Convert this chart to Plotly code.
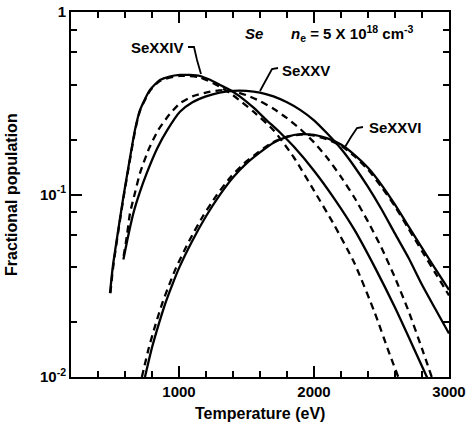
import plotly.graph_objects as go

# ---- data (Temperature in eV, fractional population) ----
T_xxiv_solid = [489, 501, 513, 550, 588, 630, 674, 711, 785, 859, 930, 1007, 1080, 1156, 1230, 1304, 1378, 1450, 1550, 1650, 1750, 1850, 2000, 2150, 2300, 2450, 2600, 2750, 2850]
P_xxiv_solid = [0.0288, 0.0354, 0.042, 0.064, 0.097, 0.148, 0.226, 0.29, 0.374, 0.424, 0.443, 0.452, 0.452, 0.446, 0.425, 0.398, 0.374, 0.345, 0.30, 0.255, 0.218, 0.183, 0.135, 0.095, 0.064, 0.040, 0.024, 0.0138, 0.0095]

T_xxiv_dash = [492, 504, 516, 552, 590, 632, 676, 713, 787, 861, 1007, 1156, 1300, 1400, 1550, 1700, 1850, 2000, 2150, 2300, 2450, 2550, 2624]
P_xxiv_dash = [0.0288, 0.0354, 0.042, 0.064, 0.097, 0.148, 0.226, 0.29, 0.372, 0.42, 0.447, 0.438, 0.39, 0.35, 0.285, 0.225, 0.16, 0.105, 0.068, 0.042, 0.0225, 0.014, 0.0100]

T_xxv_solid = [588, 625, 662, 710, 761, 840, 914, 1007, 1100, 1200, 1300, 1400, 1500, 1600, 1700, 1800, 1900, 2000, 2100, 2200, 2300, 2400, 2500, 2600, 2700, 2800, 2900, 3000]
P_xxv_solid = [0.044, 0.060, 0.079, 0.103, 0.131, 0.18, 0.226, 0.284, 0.32, 0.345, 0.362, 0.37, 0.37, 0.362, 0.345, 0.32, 0.29, 0.255, 0.215, 0.178, 0.142, 0.11, 0.083, 0.061, 0.045, 0.032, 0.0235, 0.0173]

T_xxv_dash = [590, 615, 637, 675, 711, 780, 847, 930, 1007, 1100, 1200, 1300, 1400, 1500, 1600, 1700, 1800, 1900, 2000, 2100, 2200, 2300, 2400, 2500, 2600, 2700, 2800, 2872]
P_xxv_dash = [0.046, 0.060, 0.079, 0.103, 0.131, 0.18, 0.226, 0.275, 0.316, 0.345, 0.362, 0.372, 0.368, 0.35, 0.325, 0.295, 0.262, 0.228, 0.193, 0.158, 0.125, 0.096, 0.071, 0.051, 0.035, 0.023, 0.0143, 0.0100]

T_xxvi_solid = [748, 800, 850, 900, 950, 1000, 1100, 1200, 1300, 1400, 1500, 1600, 1700, 1800, 1900, 2000, 2100, 2200, 2300, 2400, 2500, 2600, 2700, 2800, 2900, 3000]
P_xxvi_solid = [0.010, 0.0145, 0.0195, 0.0255, 0.032, 0.0395, 0.056, 0.076, 0.099, 0.124, 0.148, 0.170, 0.192, 0.207, 0.214, 0.212, 0.203, 0.188, 0.165, 0.140, 0.113, 0.088, 0.067, 0.051, 0.039, 0.030]

T_xxvi_dash = [725, 777, 827, 877, 927, 977, 1077, 1177, 1278, 1380, 1482, 1585, 1690, 1795, 1900, 2000, 2100, 2200, 2300, 2400, 2500, 2600, 2700, 2800, 2900, 3000]
P_xxvi_dash = [0.010, 0.0145, 0.0195, 0.0255, 0.032, 0.0395, 0.056, 0.076, 0.099, 0.124, 0.148, 0.170, 0.192, 0.207, 0.213, 0.210, 0.200, 0.185, 0.162, 0.137, 0.110, 0.086, 0.065, 0.049, 0.037, 0.028]

x_major_ticks = [1000, 2000, 3000]
x_minor_ticks = [400, 600, 800, 1200, 1400, 1600, 1800, 2200, 2400, 2600, 2800]
y_major_ticks = [0.01, 0.1, 1]
y_major_text = ["10<sup>-2</sup>", "10<sup>-1</sup>", "1"]
y_minor_ticks = [0.02, 0.04, 0.06, 0.08, 0.2, 0.4, 0.6, 0.8]

FONT = "Liberation Sans"

fig = go.Figure()
series = [
    (T_xxiv_solid, P_xxiv_solid, "solid"),
    (T_xxiv_dash, P_xxiv_dash, "7px,5px"),
    (T_xxv_solid, P_xxv_solid, "solid"),
    (T_xxv_dash, P_xxv_dash, "7px,5px"),
    (T_xxvi_solid, P_xxvi_solid, "solid"),
    (T_xxvi_dash, P_xxvi_dash, "7px,5px"),
]
for T, P, dash in series:
    fig.add_trace(go.Scatter(
        x=T, y=P, mode="lines", showlegend=False, hoverinfo="skip",
        line=dict(color="black", width=2.3, dash=dash, shape="spline", smoothing=0.6),
    ))

W, H = 470, 426
PL, PR, PT, PB = 71, 449, 12, 377          # plot area in window pixels
pw, ph = PR - PL, PB - PT

def px(x):
    return (x - PL) / pw

def py(y):
    return (PB - y) / ph

fig.update_layout(
    width=W, height=H,
    margin=dict(l=PL, r=W - PR, t=PT, b=H - PB, autoexpand=False),
    paper_bgcolor="white", plot_bgcolor="white",
    font=dict(family=FONT, color="black"),
    xaxis=dict(
        range=[200, 3000], tickmode="array", tickvals=x_major_ticks, automargin=False,
        ticklabeloverflow="allow",
        ticks="inside", ticklen=11, tickwidth=1.5, tickcolor="black",
        minor=dict(tickmode="array", tickvals=x_minor_ticks, ticks="inside",
                   ticklen=6, tickwidth=1.5, tickcolor="black"),
        showline=True, linewidth=2, linecolor="black", mirror="ticks",
        showgrid=False, zeroline=False,
        tickfont=dict(size=15, family=FONT, weight="bold"),
    ),
    yaxis=dict(
        type="log", range=[-2, 0], tickmode="array", tickvals=y_major_ticks, ticktext=y_major_text,
        automargin=False, ticklabeloverflow="allow",
        ticks="inside", ticklen=11, tickwidth=1.5, tickcolor="black",
        minor=dict(tickmode="array", tickvals=y_minor_ticks, ticks="inside",
                   ticklen=6, tickwidth=1.5, tickcolor="black"),
        showline=True, linewidth=2, linecolor="black", mirror="ticks",
        showgrid=False, zeroline=False,
        tickfont=dict(size=15, family=FONT, weight="bold"),
    ),
)

bold = dict(family=FONT, size=15, color="black", weight="bold")

def label(x, y, text, font=bold, angle=0):
    return dict(x=px(x), y=py(y), xref="paper", yref="paper", text=text, showarrow=False,
                xanchor="center", yanchor="middle", textangle=angle, font=font)

title_font = dict(family=FONT, size=16, color="black", weight="bold")
ann = [
    label(260, 413, "Temperature (eV)", title_font),
    label(11, 195, "Fractional population", title_font, -90),
    label(157, 47, "SeXXIV"),
    label(306, 70, "SeXXV"),
    label(395, 127, "SeXXVI"),
    label(254, 34, "<i>Se</i>"),
    label(352, 33, "<i>n</i><sub>e</sub> = 5 X 10<sup>18</sup> cm<sup>-3</sup>"),
]
fig.update_layout(annotations=ann)

leaders = [
    [(188, 47), (194, 47), (197, 60), (201, 74)],
    [(278, 68), (272, 69), (266, 80), (260, 91)],
    [(363, 127), (357, 128), (351, 137), (345, 147)],
]
shapes = []
for pts in leaders:
    path = "M {} {}".format(px(pts[0][0]), py(pts[0][1]))
    for p in pts[1:]:
        path += " L {} {}".format(px(p[0]), py(p[1]))
    shapes.append(dict(type="path", xref="paper", yref="paper", path=path,
                       line=dict(color="black", width=1.8)))
fig.update_layout(shapes=shapes)

# remove the default 8 px page margin so the figure fills the window exactly
fig.write_html("out.html", config={"displayModeBar": False},
               post_script="document.body.style.margin='0';")
